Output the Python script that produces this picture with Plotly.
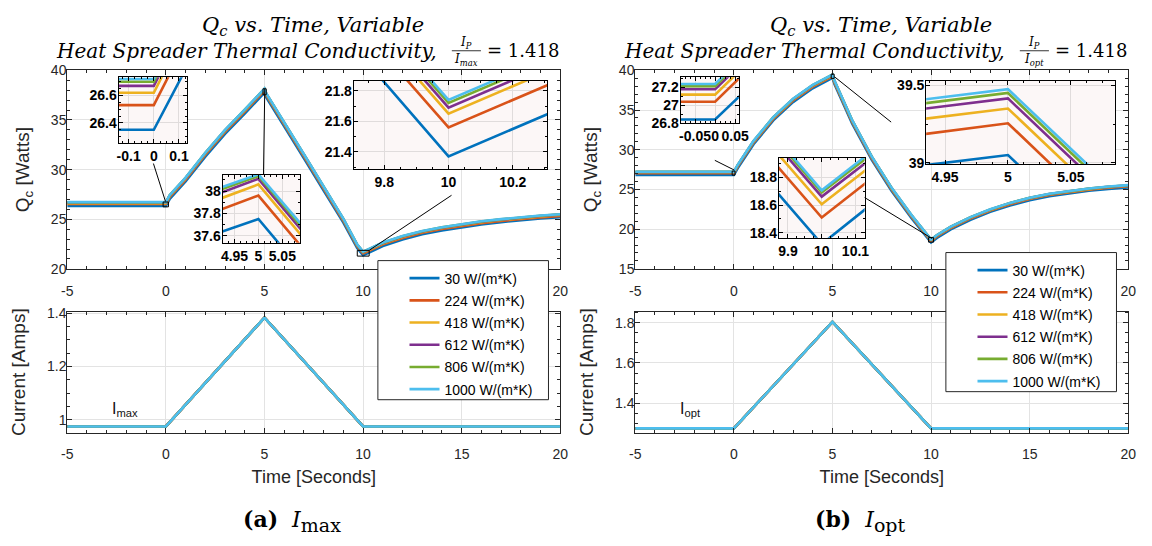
import plotly.graph_objects as go

# ---------------- data ----------------
series_labels = ["30 W/(m*K)", "224 W/(m*K)", "418 W/(m*K)",
                 "612 W/(m*K)", "806 W/(m*K)", "1000 W/(m*K)"]

time_qc = [-5, 0, 0.2, 1, 2, 3, 4, 4.9, 5, 5.1, 6, 7, 8, 9, 9.7, 10, 10.3,
           11, 12, 13, 14, 15, 16, 17, 18, 19, 20]

# Qc for I = Imax profile
qc_imax_30 = [26.35, 26.35, 27.05, 28.8, 31.3, 33.6, 35.64, 37.6, 37.75, 37.24, 34.4, 31.15, 27.9, 24.66,
              22.1, 21.37, 21.64, 22.29, 22.95, 23.48, 23.87, 24.2, 24.48, 24.71, 24.91, 25.07, 25.2]
qc_imax_224 = [26.53, 26.53, 27.25, 29.0, 31.5, 33.8, 35.85, 37.8, 37.96, 37.45, 34.6, 31.35, 28.1, 24.85,
               22.28, 21.56, 21.83, 22.47, 23.12, 23.64, 24.02, 24.34, 24.61, 24.83, 25.03, 25.19, 25.33]
qc_imax_418 = [26.62, 26.62, 27.35, 29.1, 31.6, 33.9, 35.95, 37.9, 38.06, 37.55, 34.7, 31.45, 28.2, 24.95,
               22.37, 21.65, 21.92, 22.56, 23.21, 23.73, 24.11, 24.43, 24.7, 24.92, 25.12, 25.28, 25.42]
qc_imax_612 = [26.67, 26.67, 27.4, 29.15, 31.65, 33.95, 36.0, 37.95, 38.11, 37.6, 34.75, 31.5, 28.25, 25.0,
               22.41, 21.69, 21.96, 22.6, 23.25, 23.77, 24.15, 24.47, 24.74, 24.96, 25.16, 25.32, 25.46]
qc_imax_806 = [26.70, 26.70, 27.43, 29.18, 31.68, 33.98, 36.03, 37.98, 38.135, 37.63, 34.78, 31.53, 28.28, 25.03,
               22.44, 21.72, 21.99, 22.63, 23.28, 23.8, 24.18, 24.5, 24.77, 24.99, 25.19, 25.35, 25.49]
qc_imax_1000 = [26.72, 26.72, 27.45, 29.2, 31.7, 34.0, 36.05, 38.0, 38.15, 37.65, 34.8, 31.55, 28.3, 25.05,
                22.46, 21.74, 22.01, 22.65, 23.3, 23.82, 24.2, 24.52, 24.79, 25.01, 25.21, 25.37, 25.51]

# Qc for I = Iopt profile
qc_iopt_30 = [26.84, 26.84, 27.7, 30.7, 33.7, 36.0, 37.75, 38.95, 39.05, 38.28, 33.3, 28.7, 24.8, 21.4,
              19.16, 18.32, 18.9, 19.97, 21.17, 22.18, 22.98, 23.64, 24.14, 24.53, 24.83, 25.07, 25.25]
qc_iopt_224 = [27.04, 27.04, 27.92, 30.9, 33.9, 36.2, 37.95, 39.15, 39.255, 38.48, 33.5, 28.9, 25.0, 21.6,
               19.35, 18.51, 19.08, 20.15, 21.35, 22.35, 23.15, 23.8, 24.3, 24.68, 24.98, 25.22, 25.4]
qc_iopt_418 = [27.12, 27.12, 28.0, 31.0, 34.0, 36.3, 38.05, 39.25, 39.35, 38.58, 33.6, 29.0, 25.1, 21.7,
               19.44, 18.605, 19.17, 20.23, 21.43, 22.42, 23.22, 23.87, 24.37, 24.74, 25.04, 25.28, 25.46]
qc_iopt_612 = [27.18, 27.18, 28.06, 31.06, 34.06, 36.36, 38.11, 39.315, 39.415, 38.645, 33.66, 29.06, 25.15, 21.75,
               19.5, 18.66, 19.22, 20.28, 21.47, 22.46, 23.26, 23.91, 24.41, 24.78, 25.08, 25.32, 25.5]
qc_iopt_806 = [27.215, 27.215, 28.1, 31.1, 34.1, 36.4, 38.15, 39.35, 39.45, 38.68, 33.7, 29.1, 25.18, 21.78,
               19.53, 18.69, 19.25, 20.31, 21.5, 22.49, 23.29, 23.94, 24.44, 24.81, 25.11, 25.35, 25.53]
qc_iopt_1000 = [27.24, 27.24, 28.12, 31.12, 34.12, 36.42, 38.17, 39.375, 39.475, 38.705, 33.72, 29.12, 25.2, 21.8,
                19.55, 18.705, 19.27, 20.33, 21.52, 22.51, 23.31, 23.96, 24.46, 24.83, 25.13, 25.37, 25.55]

time_current = [-5, 0, 5, 10, 20]
current_imax = [0.975, 0.975, 1.383, 0.975, 0.975]
current_iopt = [1.273, 1.273, 1.805, 1.273, 1.273]

# tick labels (the "15" label of the upper axes is hidden behind the legend in the reference)
time_ticks = [-5, 0, 5, 10, 15, 20]
time_tick_text = ["-5", "0", "5", "10", "15", "20"]
time_tick_text_top = ["-5", "0", "5", "10", "", "20"]
qc_imax_ticks = [20, 25, 30, 35, 40]
qc_imax_tick_text = ["20", "25", "30", "35", "40"]
qc_iopt_ticks = [15, 20, 25, 30, 35, 40]
qc_iopt_tick_text = ["15", "20", "25", "30", "35", "40"]
cur_imax_ticks = [1.0, 1.2, 1.4]
cur_imax_tick_text = ["1", "1.2", "1.4"]
cur_iopt_ticks = [1.4, 1.6, 1.8]
cur_iopt_tick_text = ["1.4", "1.6", "1.8"]

# zoom-inset windows: x range, y range, x ticks, x tick text, y ticks, y tick text
inset_L1 = ([-0.14, 0.132], [26.25, 26.734], [-0.1, 0, 0.1], ["-0.1", "0", "0.1"], [26.4, 26.6], ["26.4", "26.6"])
inset_L2 = ([4.925, 5.088], [37.536, 38.145], [4.95, 5, 5.05], ["4.95", "5", "5.05"], [37.6, 37.8, 38.0], ["37.6", "37.8", "38"])
inset_L3 = ([9.705, 10.308], [21.285, 21.864], [9.8, 10, 10.2], ["9.8", "10", "10.2"], [21.4, 21.6, 21.8], ["21.4", "21.6", "21.8"])
inset_R1 = ([-0.086, 0.059], [26.8, 27.317], [-0.05, 0, 0.05], ["-0.05", "0", "0.05"], [26.8, 27.0, 27.2], ["26.8", "27", "27.2"])
inset_R2 = ([9.873, 10.127], [18.365, 18.939], [9.9, 10, 10.1], ["9.9", "10", "10.1"], [18.4, 18.6, 18.8], ["18.4", "18.6", "18.8"])
inset_R3 = ([4.935, 5.085], [38.991, 39.527], [4.95, 5, 5.05], ["4.95", "5", "5.05"], [39.0, 39.5], ["39", "39.5"])

# ---------------- styling ----------------
W, H = 1152, 546
PAGE_OFFSET = 8          # the page body margin shifts the plot by this many pixels
colors = ["#0072BD", "#D95319", "#EDB120", "#7E2F8E", "#77AC30", "#4DBEEE"]
AXC = "#262626"
SANS = "Liberation Sans, Arial, sans-serif"
SERIF = "DejaVu Serif, serif"
INSET_BG = "rgb(252,247,247)"


def px(xp):
    return (xp - PAGE_OFFSET) / W


def py(yp):
    return 1 - (yp - PAGE_OFFSET) / H


def main_axis(dom, rng, tv, tt, minor, anchor, letter, title=None, standoff=None):
    d = dict(domain=dom, range=rng, anchor=anchor, tickmode="array", tickvals=tv, ticktext=tt,
             ticks="inside", ticklen=5, tickcolor=AXC, mirror="allticks", showline=True,
             linecolor=AXC, linewidth=1, showgrid=True, gridcolor="#e3e3e3", gridwidth=1,
             zeroline=False, tickfont=dict(family=SANS, size=14, color=AXC), tickangle=0,
             ticklabelstandoff=9 if letter == "x" else -3,
             minor=dict(ticks="inside", ticklen=3, dtick=minor, tick0=0, tickcolor=AXC, showgrid=False),
             fixedrange=True)
    if title:
        d["title"] = dict(text=title, font=dict(family=SANS, size=19 if letter == "y" else 18, color=AXC))
        if standoff is not None:
            d["title"]["standoff"] = standoff
    return d


def inset_axis(dom, rng, tv, tt, minor, anchor, letter):
    return dict(domain=dom, range=rng, anchor=anchor, tickmode="array", tickvals=tv, ticktext=tt,
                ticks="inside", ticklen=4, tickcolor="black", mirror="allticks", showline=True,
                linecolor="black", linewidth=1, showgrid=True, gridcolor="#e0dcdc", gridwidth=1,
                zeroline=False, tickfont=dict(family=SANS, size=14, color="black", weight="bold"),
                ticklabelstandoff=0 if letter == "x" else -2,
                tickangle=0, minor=dict(ticks="inside", ticklen=2, dtick=minor, tick0=0, tickcolor="black",
                                        showgrid=False),
                fixedrange=True)


fig = go.Figure()

left_sets = [qc_imax_30, qc_imax_224, qc_imax_418, qc_imax_612, qc_imax_806, qc_imax_1000]
right_sets = [qc_iopt_30, qc_iopt_224, qc_iopt_418, qc_iopt_612, qc_iopt_806, qc_iopt_1000]

for i, (name, col, ys) in enumerate(zip(series_labels, colors, left_sets)):
    fig.add_trace(go.Scatter(x=time_qc, y=ys, mode="lines", line=dict(color=col, width=2.6), name=name,
                             xaxis="x", yaxis="y", legend="legend", legendgroup="L%d" % i,
                             showlegend=True, hoverinfo="skip"))
    for ax in ("3", "4", "5"):
        fig.add_trace(go.Scatter(x=time_qc, y=ys, mode="lines", line=dict(color=col, width=2.6),
                                 xaxis="x" + ax, yaxis="y" + ax, showlegend=False, legendgroup="L%d" % i,
                                 hoverinfo="skip"))
    fig.add_trace(go.Scatter(x=time_current, y=current_imax, mode="lines", line=dict(color=col, width=2.6),
                             xaxis="x9", yaxis="y9", showlegend=False, legendgroup="L%d" % i, hoverinfo="skip"))

for i, (name, col, ys) in enumerate(zip(series_labels, colors, right_sets)):
    fig.add_trace(go.Scatter(x=time_qc, y=ys, mode="lines", line=dict(color=col, width=2.6), name=name,
                             xaxis="x2", yaxis="y2", legend="legend2", legendgroup="R%d" % i,
                             showlegend=True, hoverinfo="skip"))
    for ax in ("6", "7", "8"):
        fig.add_trace(go.Scatter(x=time_qc, y=ys, mode="lines", line=dict(color=col, width=2.6),
                                 xaxis="x" + ax, yaxis="y" + ax, showlegend=False, legendgroup="R%d" % i,
                                 hoverinfo="skip"))
    fig.add_trace(go.Scatter(x=time_current, y=current_iopt, mode="lines", line=dict(color=col, width=2.6),
                             xaxis="x10", yaxis="y10", showlegend=False, legendgroup="R%d" % i, hoverinfo="skip"))

# ---------------- axes ----------------
top_y = [py(268.5), py(64)]
bot_y = [py(437.2), py(312.7)]
L_x = [px(62), px(562)]
R_x = [px(638), px(1138)]

layout = dict(
    xaxis=main_axis(L_x, [-5, 20], time_ticks, time_tick_text_top, 1, "y", "x"),
    yaxis=main_axis(top_y, [20, 40], qc_imax_ticks, qc_imax_tick_text, 1, "x", "y", "Q<sub>c</sub> [Watts]", 16),
    xaxis2=main_axis(R_x, [-5, 20], time_ticks, time_tick_text_top, 1, "y2", "x"),
    yaxis2=main_axis(top_y, [15, 40], qc_iopt_ticks, qc_iopt_tick_text, 1, "x2", "y", "Q<sub>c</sub> [Watts]", 16),
    xaxis9=main_axis(L_x, [-5, 20], time_ticks, time_tick_text, 1, "y9", "x", "Time [Seconds]", 8),
    yaxis9=main_axis(bot_y, [0.952, 1.405], cur_imax_ticks, cur_imax_tick_text, 0.05, "x9", "y", "Current [Amps]", 16),
    xaxis10=main_axis(R_x, [-5, 20], time_ticks, time_tick_text, 1, "y10", "x", "Time [Seconds]", 8),
    yaxis10=main_axis(bot_y, [1.252, 1.856], cur_iopt_ticks, cur_iopt_tick_text, 0.05, "x10", "y", "Current [Amps]", 16),
)

inset_boxes = {
    "3": (inset_L1, (114, 183.5, 71, 139.3), (0.025, 0.05)),
    "4": (inset_L2, (219.5, 298.5, 171.7, 241.7), (0.0125, 0.1)),
    "5": (inset_L3, (352.5, 549, 75, 166), (0.05, 0.1)),
    "6": (inset_R1, (684, 743, 71, 118.3), (0.0125, 0.1)),
    "7": (inset_R2, (783.6, 870.6, 154, 236.5), (0.025, 0.1)),
    "8": (inset_R3, (933, 1124.5, 75, 160.7), (0.0125, 0.25)),
}

shapes = []
for ax, (spec, (x0, x1, y0, y1), (mx, my)) in inset_boxes.items():
    xr, yr, xtv, xtt, ytv, ytt = spec
    layout["xaxis" + ax] = inset_axis([px(x0), px(x1)], xr, xtv, xtt, mx, "y" + ax, "x")
    layout["yaxis" + ax] = inset_axis([py(y1), py(y0)], yr, ytv, ytt, my, "x" + ax, "y")
    shapes.append(dict(type="rect", xref="x" + ax, yref="y" + ax, x0=xr[0], x1=xr[1], y0=yr[0], y1=yr[1],
                       fillcolor=INSET_BG, line=dict(width=0), layer="below"))
    # marker box on the main axes showing the zoomed window
    main = "" if ax in ("3", "4", "5") else "2"
    shapes.append(dict(type="rect", xref="x" + main, yref="y" + main, x0=xr[0], x1=xr[1], y0=yr[0], y1=yr[1],
                       line=dict(color="black", width=1), fillcolor="rgba(0,0,0,0)", layer="above"))

# connector lines (pixel positions)
connectors = [
    (149.4, 160, 161.6, 199),
    (262.3, 83, 261, 171.7),
    (368.3, 249.3, 451.7, 192.7),
    (718.7, 156.7, 738.4, 166.7),
    (870.6, 195, 939.1, 237.3),
    (840.5, 71, 897.5, 117.3),
]
for (a, b, c, d) in connectors:
    shapes.append(dict(type="line", xref="paper", yref="paper", x0=px(a), y0=py(b), x1=px(c), y1=py(d),
                       line=dict(color="black", width=1), layer="above"))

# legend frames
for (a, b, c, d) in [(377, 260, 550, 403.3), (953, 251.7, 1126, 395)]:
    shapes.append(dict(type="rect", xref="paper", yref="paper", x0=px(a), y0=py(b), x1=px(c), y1=py(d),
                       fillcolor="white", line=dict(color=AXC, width=1), layer="above"))

# fraction bars in titles
for off in (0, 576):
    shapes.append(dict(type="line", xref="paper", yref="paper", x0=px(452 + off), x1=px(481.5 + off),
                       y0=py(43.8), y1=py(43.8), line=dict(color="black", width=0.8), layer="above"))

annotations = []


def ann(text, x, y, size, family=SERIF, xanchor="center", color="black"):
    annotations.append(dict(text=text, x=px(x), y=py(y), xref="paper", yref="paper", showarrow=False,
                            xanchor=xanchor, yanchor="middle", font=dict(family=family, size=size, color=color)))


for off, den in ((0, "max"), (576, "opt")):
    ann("<i>Q<sub>c</sub> vs. Time, Variable</i>", 311 + off, 18, 21)
    ann("<i>Heat Spreader Thermal Conductivity,</i>", 439 + off, 44, 20, xanchor="right")
    ann("<i>I<sub>P</sub></i>", 466 + off, 36, 12)
    ann("<i>I<sub>%s</sub></i>" % den, 466 + off, 53, 12)
    ann("= 1.418", 486 + off, 44, 18, xanchor="left")

ann("<b>(a)</b>  <i>I</i><sub><span style='font-size:19px'>max</span></sub>", 290, 528, 22)
ann("<b>(b)</b>  <i>I</i><sub><span style='font-size:19px'>opt</span></sub>", 866, 528, 22)
ann("I<sub>max</sub>", 105, 413, 16, family=SANS, xanchor="left", color="#111111")
ann("I<sub>opt</sub>", 681, 413, 16, family=SANS, xanchor="left", color="#111111")

legend_style = dict(xanchor="left", yanchor="top", bgcolor="rgba(0,0,0,0)", borderwidth=0,
                    font=dict(family=SANS, size=14, color="black"), tracegroupgap=1, itemwidth=30,
                    traceorder="grouped")

fig.update_layout(
    **layout,
    shapes=shapes,
    annotations=annotations,
    legend=dict(x=px(404), y=py(262), **legend_style),
    legend2=dict(x=px(980), y=py(253.7), **legend_style),
    width=W, height=H, margin=dict(l=0, r=0, t=0, b=0),
    paper_bgcolor="white", plot_bgcolor="white",
    showlegend=True, hovermode=False,
)

fig.write_html("out.html")
